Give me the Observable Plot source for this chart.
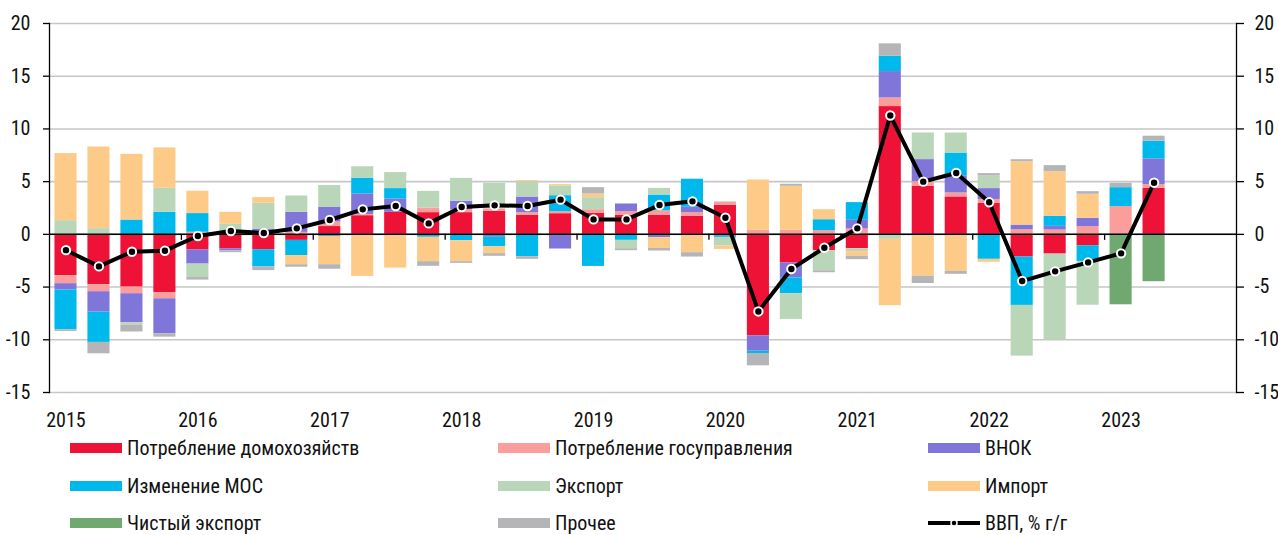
<!DOCTYPE html>
<html><head><meta charset="utf-8">
<script src="https://cdn.jsdelivr.net/npm/d3@7"></script>
<script src="https://cdn.jsdelivr.net/npm/@observablehq/plot@0.6"></script>
<style>
body{margin:0;background:#fff;font-family:"Liberation Sans Narrow","Roboto Condensed",Roboto,sans-serif;}
#chart svg{display:block}
.legend{position:relative;height:105px;width:1278px}
.item{position:absolute;display:flex;align-items:center;height:24px;font-size:20px;color:#111;white-space:nowrap}
.sw{width:52px;height:10px;margin-right:5px;flex:none}
</style></head><body>
<div id="chart"></div>
<div class="legend" id="legend"></div>
<script>
const quarters = ["2015Q1","2015Q2","2015Q3","2015Q4","2016Q1","2016Q2","2016Q3","2016Q4",
  "2017Q1","2017Q2","2017Q3","2017Q4","2018Q1","2018Q2","2018Q3","2018Q4",
  "2019Q1","2019Q2","2019Q3","2019Q4","2020Q1","2020Q2","2020Q3","2020Q4",
  "2021Q1","2021Q2","2021Q3","2021Q4","2022Q1","2022Q2","2022Q3","2022Q4",
  "2023Q1","2023Q2","2023Q3","2023Q4"];
const yearStarts = ["2015Q1","2016Q1","2017Q1","2018Q1","2019Q1","2020Q1","2021Q1","2022Q1","2023Q1"];
const yTicks = [-15,-10,-5,0,5,10,15,20];

const seriesNames = ["Потребление домохозяйств","Потребление госуправления","ВНОК","Изменение МОС","Экспорт","Импорт","Чистый экспорт","Прочее"];
const seriesColors = ["#ee1236","#fb9d9b","#8075d9","#00b9ec","#b9d6b9","#fdcb87","#6fa96f","#b5b5b7"];
const gdpName = "ВВП, % г/г";

const household   = [-3.92,-4.78,-5.00,-5.54,-1.46,-1.36,-1.46,-0.57, 0.74,1.77,2.09,2.06, 2.06,2.18,1.80,1.96, 1.99,1.80,1.80,1.71, 2.75,-9.62,-2.72,-1.55, -1.36,12.12,4.56,3.55, 2.94,-2.15,-1.87,-1.08, 0,4.37];
const government  = [-0.76,-0.66,-0.63,-0.57, 0.20,0,0,0.19, 0.43,0.12,0,0.44, 0.28,0.22,0.25,0.19, 0.35,0.35,0.44,0.35, 0.32,0.38,0.38,0.35, 0.51,0.82,0.44,0.38, 0.37,0.44,0.41,0.73, 2.63,0.35];
const gfcf        = [-0.60,-1.93,-2.75,-3.32,-1.36,-0.19,0.50,1.90, 1.38,1.95,1.27,0, 0.79,-0.28,1.49,-1.39, 0,0.73,-0.32,0.51, -0.19,-1.46,-1.42,0, 0.82,2.50,2.09,1.62, 1.03,0.44,0.35,0.79, 0,2.44];
const inventories = [-3.77,-2.88,1.36,2.09, 1.77,0,-1.63,-1.44, -0.20,1.49,0.98,-0.28, -0.60,-0.89,-2.12,1.52, -3.04,-0.57,1.49,2.66, -0.10,-0.22,-1.49,1.04, 1.68,1.46,-0.13,2.16, -2.37,-4.59,0.95,-1.49, 1.80,1.68];
const exportsC    = [1.30,0.54,-0.22,2.28, -1.27,0.95,2.45,1.55, 2.08,1.08,1.52,1.58, 2.18,2.44,1.46,0.92, 1.14,-0.79,0.63,0, -0.82,0,-2.44,-1.90, -0.28,-0.47,2.53,1.90, 1.20,-4.81,-8.16,-4.15, 0,0];
const importsC    = [6.36,7.75,6.23,3.83, 2.12,1.14,0.54,-0.87, -2.68,-3.99,-3.20,-2.31, -1.99,-0.66,0.10,0.13, 0.35,0,-1.01,-1.74, -0.32,4.78,4.18,0.95, -0.44,-6.30,-3.83,-3.51, -0.28,6.01,4.24,2.28, 0,0];
const netExports  = [0,0,0,0, 0,0,0,0, 0,0,0,0, 0,0,0,0, 0,0,0,0, 0,0,0,0, 0,0,0,0, 0,0,0,0, -6.68,-4.49];
const other       = [-0.16,-1.08,-0.66,-0.32, -0.25,-0.19,-0.35,-0.24, -0.43,0,0,-0.44, -0.16,-0.25,-0.25,0, 0.60,-0.19,-0.25,-0.41, 0,-1.17,0.19,-0.19, -0.32,1.17,-0.70,-0.28, 0.22,0.19,0.57,0.25, 0.41,0.47];
const gdp         = [-1.50,-3.04,-1.65,-1.55, -0.16,0.32,0.13,0.57, 1.36,2.37,2.69,1.04, 2.59,2.75,2.69,3.29, 1.42,1.42,2.78,3.13, 1.58,-7.31,-3.29,-1.27, 0.57,11.27,5.00,5.82, 3.04,-4.43,-3.51,-2.66, -1.80,4.90];

const seriesValues = [household, government, gfcf, inventories, exportsC, importsC, netExports, other];
const rows = [];
seriesValues.forEach((vals, s) => vals.forEach((v, i) => {
  if (v !== 0) rows.push({q: quarters[i], s: seriesNames[s], v});
}));
const gdpRows = gdp.map((g, i) => ({q: quarters[i], g}));

const W = 1278, H = 430, mL = 49, mR = 42, mT = 23, mB = 38;
const step = (W - mL - mR) / quarters.length;

const chart = Plot.plot({
  width: W, height: H, marginLeft: mL, marginRight: mR, marginTop: mT, marginBottom: mB,
  style: {fontFamily: '"Liberation Sans Narrow","Roboto Condensed",Roboto,sans-serif', fontSize: "20px", color: "#111", background: "white", overflow: "visible"},
  x: {type: "band", domain: quarters, paddingInner: 0.33, paddingOuter: 0.165, axis: null, label: null},
  y: {domain: [-15, 20], axis: null, label: null},
  color: {domain: seriesNames, range: seriesColors},
  marks: [
    Plot.gridY({ticks: yTicks, stroke: "#c6c6c6", strokeOpacity: 1, strokeWidth: 1.6}),
    Plot.barY(rows, Plot.stackY({x: "q", y: "v", fill: "s", order: seriesNames})),
    Plot.ruleY([0], {stroke: "#000", strokeWidth: 1.5}),
    Plot.ruleX(yearStarts.slice(1), {x: d => d, y1: 0, y2: 0, insetBottom: -6, dx: -step / 2, stroke: "#000", strokeWidth: 1.3}),
    Plot.axisY({anchor: "left", ticks: yTicks, tickFormat: d => String(d), tickSize: 6, tickPadding: 13, stroke: "#000", strokeWidth: 1.3, label: null}),
    Plot.axisY({anchor: "right", ticks: yTicks, tickFormat: d => String(d), tickSize: 7, tickPadding: 11, stroke: "#000", strokeWidth: 1.3, label: null}),
    Plot.axisX({ticks: yearStarts, tickFormat: d => d.slice(0, 4), tickSize: 0, tickPadding: 20, label: null}),
    Plot.frame({anchor: "left", stroke: "#000", strokeWidth: 1.3}),
    Plot.frame({anchor: "right", stroke: "#000", strokeWidth: 1.3}),
    Plot.line(gdpRows, {x: "q", y: "g", stroke: "#000", strokeWidth: 4, strokeLinejoin: "round"}),
    Plot.dot(gdpRows, {x: "q", y: "g", r: 4.2, fill: "#000", stroke: "#fff", strokeWidth: 2})
  ]
});
document.getElementById("chart").appendChild(chart);

const legend = document.getElementById("legend");
const colX = [70, 498, 928];
const rowY = [18, 56, 93];
const items = [
  [seriesNames[0], seriesColors[0]], [seriesNames[1], seriesColors[1]], [seriesNames[2], seriesColors[2]],
  [seriesNames[3], seriesColors[3]], [seriesNames[4], seriesColors[4]], [seriesNames[5], seriesColors[5]],
  [seriesNames[6], seriesColors[6]], [seriesNames[7], seriesColors[7]], [gdpName, null]
];
items.forEach(([name, color], k) => {
  const el = document.createElement("div");
  el.className = "item";
  el.style.left = colX[k % 3] + "px";
  el.style.top = (rowY[Math.floor(k / 3)] - 12) + "px";
  if (color) {
    const sw = document.createElement("span");
    sw.className = "sw";
    sw.style.background = color;
    el.appendChild(sw);
  } else {
    const ns = "http://www.w3.org/2000/svg";
    const svg = document.createElementNS(ns, "svg");
    svg.setAttribute("width", 52); svg.setAttribute("height", 12);
    svg.style.marginRight = "5px";
    const ln = document.createElementNS(ns, "line");
    ln.setAttribute("x1", 0); ln.setAttribute("x2", 52); ln.setAttribute("y1", 6); ln.setAttribute("y2", 6);
    ln.setAttribute("stroke", "#000"); ln.setAttribute("stroke-width", 4);
    const c = document.createElementNS(ns, "circle");
    c.setAttribute("cx", 26); c.setAttribute("cy", 6); c.setAttribute("r", 3);
    c.setAttribute("fill", "#000"); c.setAttribute("stroke", "#fff"); c.setAttribute("stroke-width", 1.5);
    svg.appendChild(ln); svg.appendChild(c);
    el.appendChild(svg);
  }
  const t = document.createElement("span");
  t.textContent = name;
  el.appendChild(t);
  legend.appendChild(el);
});
</script>
</body></html>
